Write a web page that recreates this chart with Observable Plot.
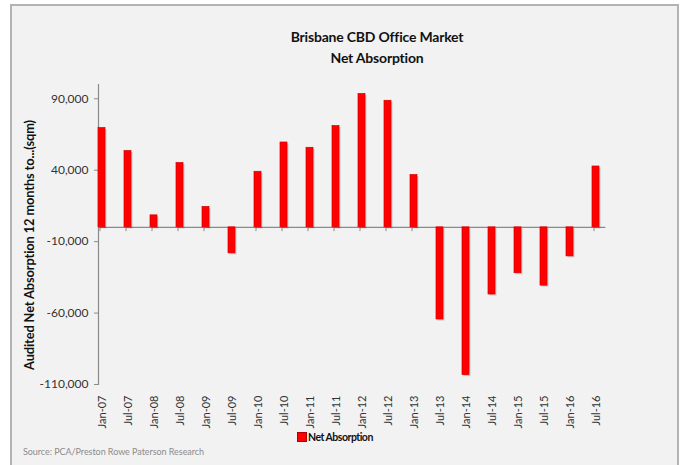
<!DOCTYPE html>
<html>
<head>
<meta charset="utf-8">
<script src="https://cdn.jsdelivr.net/npm/d3@7"></script>
<script src="https://cdn.jsdelivr.net/npm/@observablehq/plot@0.6"></script>
<style>
  body { margin: 0; background: #fff; }
  #wrap { position: relative; width: 681px; height: 465px; background: #fff; overflow: hidden; font-family: Lato, "Open Sans", sans-serif; }
  #panel { position: absolute; left: 10px; top: 4px; width: 669px; height: 480px; background: #f2f2f2; border: 2px solid #b3b3b3; box-sizing: border-box; }
  #chart { position: absolute; left: 0; top: 0; }
  #title { position: absolute; left: 257px; top: 26px; width: 240px; text-align: center; font-weight: bold; font-size: 14px; line-height: 21px; color: #111; letter-spacing: -0.2px; }
  #ytitle { position: absolute; left: -121px; top: 237px; width: 300px; height: 16px; line-height: 16px; text-align: center; font-weight: bold; font-size: 12.8px; color: #111; transform: rotate(-90deg); transform-origin: 150px 8px; letter-spacing: -0.1px; }
  #legend { position: absolute; left: 297px; top: 431px; font-weight: bold; font-size: 10.5px; line-height: 12px; color: #111; display: flex; align-items: center; letter-spacing: -0.5px; }
  #legend .sw { width: 10px; height: 10px; background: #ff0000; border: 0.5px solid #b00000; box-sizing: border-box; margin-right: 1px; }
  #source { position: absolute; left: 23px; top: 446px; font-size: 9px; line-height: 12px; color: #8c8c8c; letter-spacing: -0.05px; }
</style>
</head>
<body>
<div id="wrap">
  <div id="panel"></div>
  <div id="chart"></div>
  <div id="title">Brisbane CBD Office Market<br>Net Absorption</div>
  <div id="ytitle">Audited Net Absorption 12 months to...(sqm)</div>
  <div id="legend"><span class="sw"></span><span>Net Absorption</span></div>
  <div id="source">Source: PCA/Preston Rowe Paterson Research</div>
</div>
<script>
const dates = ["Jan-07","Jul-07","Jan-08","Jul-08","Jan-09","Jul-09","Jan-10","Jul-10","Jan-11","Jul-11",
               "Jan-12","Jul-12","Jan-13","Jul-13","Jan-14","Jul-14","Jan-15","Jul-15","Jan-16","Jul-16"];
const netAbsorption = [69500, 53400, 8400, 45000, 14300, -18200, 38900, 59400, 55700, 70900,
                       93300, 88600, 36600, -64500, -103400, -47000, -32100, -40800, -20300, 42600];
const yTicks = [-110000, -60000, -10000, 40000, 90000];

const table = dates.map((d, i) => ({date: d, value: netAbsorption[i]}));
const fmt = d => (d < 0 ? "-" : "") + d3.format(",")(Math.abs(d));

const chart = Plot.plot({
  width: 681,
  height: 465,
  marginLeft: 98,
  marginRight: 75.6,
  marginTop: 84,
  marginBottom: 81,
  style: {background: "transparent", fontFamily: "Lato, 'Open Sans', sans-serif", overflow: "visible"},
  x: {domain: dates, paddingInner: 0.72, paddingOuter: 0, align: 0, axis: null, label: null},
  y: {domain: [-110000, 100000], axis: null, label: null},
  marks: [
    Plot.frame({anchor: "left", stroke: "#8a8a8a", strokeWidth: 1.2}),
    Plot.axisY({ticks: yTicks, tickFormat: fmt, tickSize: 4, tickPadding: 6, fontSize: 12, stroke: "#8a8a8a", fill: "#333", label: null}),
    Plot.axisX({tickSize: 0, tickRotate: -90, tickPadding: 11, fontSize: 11, fill: "#333", label: null}),
    Plot.ruleY([0], {stroke: "#8a8a8a", strokeWidth: 1.2}),
    Plot.ruleX(table, {x: "date", y1: 0, y2: -3000, dx: -2, stroke: "#8a8a8a"}),
    Plot.barY(table, {x: "date", y: "value", fill: "#000", fillOpacity: 0.18, dx: 1.5, dy: 1.5}),
    Plot.barY(table, {x: "date", y: "value", fill: "#ff0000", stroke: "#d40000", strokeWidth: 0.7})
  ]
});
document.getElementById("chart").appendChild(chart);
</script>
</body>
</html>
